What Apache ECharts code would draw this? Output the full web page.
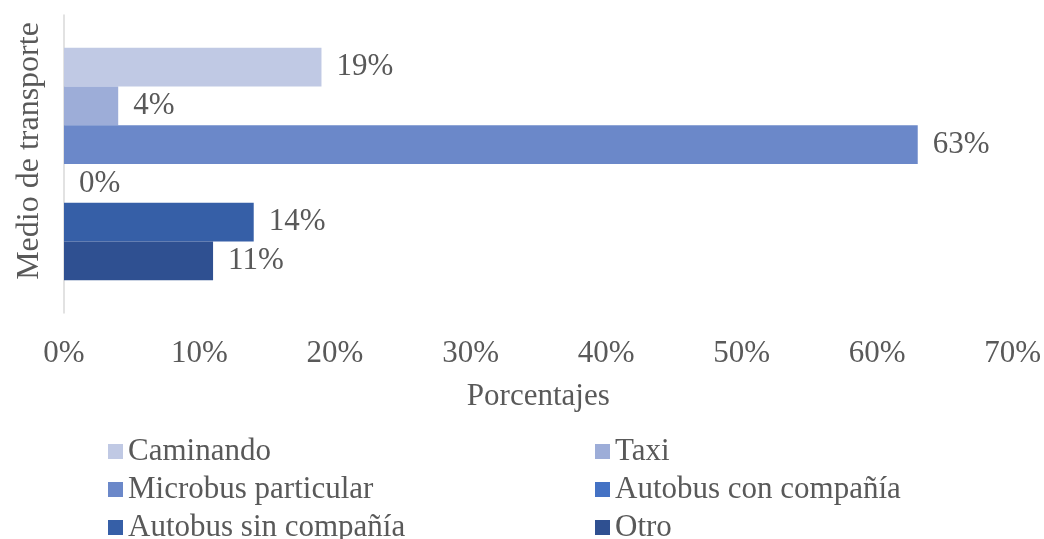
<!DOCTYPE html>
<html>
<head>
<meta charset="utf-8">
<script src="https://cdn.jsdelivr.net/npm/echarts@6/dist/echarts.min.js"></script>
<style>
  html, body { margin: 0; padding: 0; background: #fff; }
  #chart { width: 1044px; height: 539px; }
</style>
</head>
<body>
<div id="chart"></div>
<script>
// datos
const categorias = ['Medio de transporte']
const medios = ['Caminando', 'Taxi', 'Microbus particular', 'Autobus con compañía', 'Autobus sin compañía', 'Otro']
const valores = [19, 4, 63, 0, 14, 11]
const colores = ['#C0C9E4', '#9DADD8', '#6B88C9', '#4472C4', '#365FA7', '#2F5091']
const ticksX = [0, 10, 20, 30, 40, 50, 60, 70]

const fuente = 'Liberation Serif'
const gris = '#595959'
const tam = 31

const chart = echarts.init(document.getElementById('chart'))

const series = medios.map((m, i) => ({
  name: m,
  type: 'bar',
  data: [valores[i]],
  barGap: '0%',
  barCategoryGap: '22%',
  itemStyle: { color: colores[i] },
  label: {
    show: true,
    position: 'right',
    distance: 15,
    formatter: '{c}%',
    color: gris,
    fontFamily: fuente,
    fontSize: tam
  }
}))

// leyenda en dos columnas
const leyenda = (left, nombres) => ({
  orient: 'vertical',
  left: left,
  top: 431,
  height: 200,
  itemGap: 7,
  itemWidth: 15,
  itemHeight: 15,
  icon: 'rect',
  textStyle: { fontFamily: fuente, fontSize: tam, color: gris },
  data: nombres
})

chart.setOption({
  animation: false,
  grid: { left: 64, right: 31, top: 15, bottom: 226 },
  legend: [
    leyenda(103, [medios[0], medios[2], medios[4]]),
    leyenda(590, [medios[1], medios[3], medios[5]])
  ],
  xAxis: {
    type: 'value',
    min: ticksX[0],
    max: ticksX[ticksX.length - 1],
    interval: 10,
    name: 'Porcentajes',
    nameLocation: 'middle',
    nameGap: 68,
    nameTextStyle: { fontFamily: fuente, fontSize: tam, color: gris },
    axisLine: { show: false },
    axisTick: { show: false },
    splitLine: { show: false },
    axisLabel: {
      margin: 25,
      formatter: '{value}%',
      fontFamily: fuente,
      fontSize: tam,
      color: gris
    }
  },
  yAxis: {
    type: 'category',
    data: categorias,
    inverse: true,
    name: 'Medio de transporte',
    nameLocation: 'middle',
    nameGap: 18,
    nameTextStyle: { fontFamily: fuente, fontSize: 32, color: gris, padding: [0, 0, 0, 26] },
    axisLine: { show: true, lineStyle: { color: '#D9D9D9', width: 1.5 } },
    axisTick: { show: false },
    axisLabel: { show: false }
  },
  series: series
})
</script>
</body>
</html>
